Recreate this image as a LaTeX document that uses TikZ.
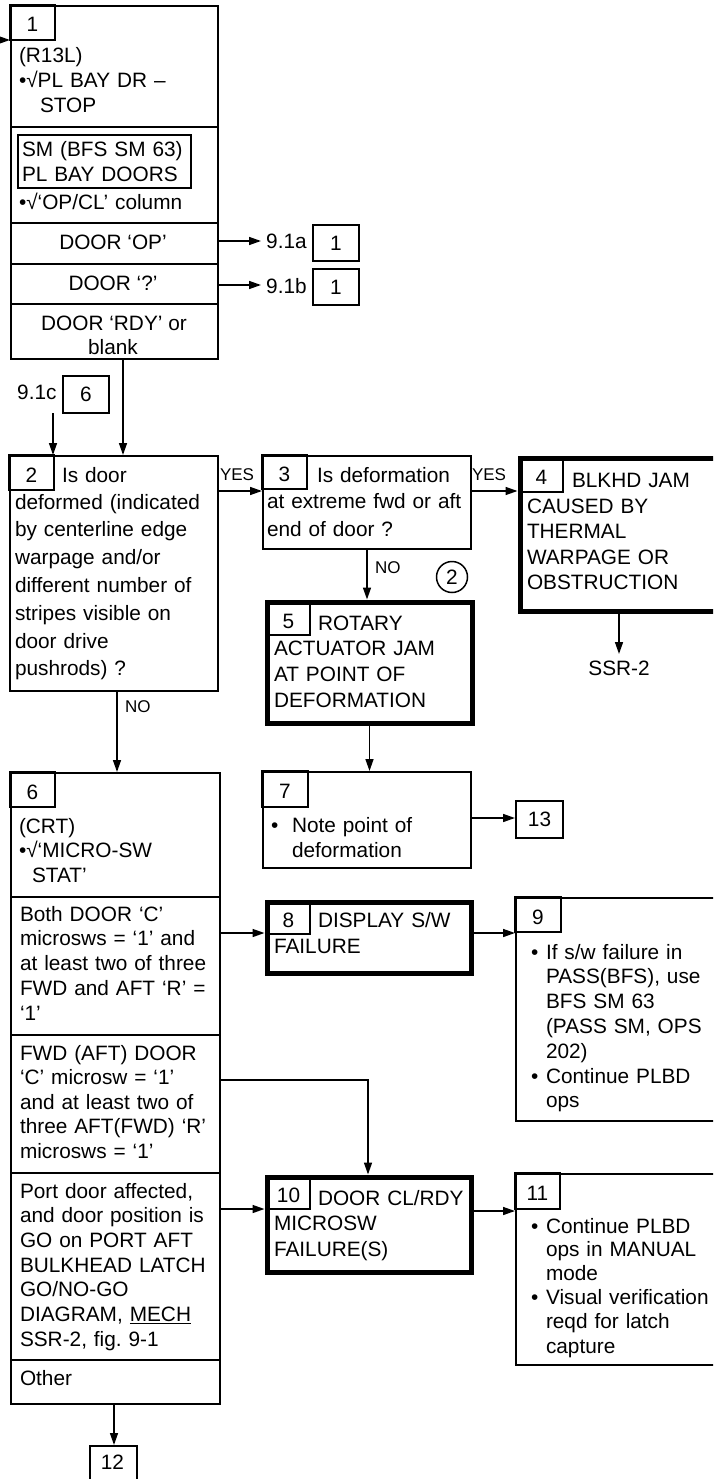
\documentclass[tikz,border=0pt]{standalone}
\usepackage{fontspec}
\setmainfont{Liberation Sans}
\usetikzlibrary{arrows.meta}
\frenchspacing
\tikzset{
  box/.style={draw, line width=2pt, inner sep=0pt, outer sep=1pt, anchor=north west, rectangle, font=\fontsize{20.8}{24}\selectfont},
  heavy/.style={draw, line width=5pt, inner sep=0pt, outer sep=2.5pt, anchor=north west, rectangle},
  tabbox/.style={draw, line width=1.3pt, inner sep=0pt, outer sep=0pt, anchor=north west, rectangle, text height=19pt, text depth=0pt, font=\fontsize{20.8}{24}\selectfont},
  tx/.style={anchor=base west, inner sep=0pt, outer sep=0pt, align=left, text width=300pt, font=\fontsize{20.8}{24.7}\selectfont},
  ctr/.style={anchor=base, inner sep=0pt, outer sep=0pt, font=\fontsize{20.8}{24}\selectfont},
  yn/.style={anchor=base west, inner sep=0pt, outer sep=0pt, font=\fontsize{17}{20}\selectfont},
  arr/.style={-{Triangle[length=12pt,width=8pt]}, line width=1.5pt},
  divider/.style={line width=1.8pt}
}
\begin{document}
\begin{tikzpicture}[x=1pt,y=-1pt]
\path[use as bounding box] (0,0) rectangle (713,1479);
\clip (0,0) rectangle (713,1479);

% ---------- Box 1 ----------
\node[box, minimum width=207pt, minimum height=353pt] (b1) at (10,5) {};
\node[tabbox, minimum width=45pt, minimum height=35pt] (tb1) at (10,5) {1};
\draw[divider] (b1.west |- 0,127) -- (b1.east |- 0,127);
\draw[divider] (b1.west |- 0,223) -- (b1.east |- 0,223);
\draw[divider] (b1.west |- 0,264) -- (b1.east |- 0,264);
\draw[divider] (b1.west |- 0,304) -- (b1.east |- 0,304);
\node[tx, font=\fontsize{20.8}{25}\selectfont] (t1a) at (19,63) {(R13L)\\•√PL BAY DR –};
\node[tx] (t1b) at (40,113) {STOP};
\node[box, line width=1.6pt, outer sep=0pt, minimum width=173pt, minimum height=53pt] (sm) at (18,135) {};
\node[tx, font=\fontsize{20.8}{25}\selectfont] (t1c) at (22,157) {SM (BFS SM 63)\\PL BAY DOORS};
\node[tx] (t1d) at (19,210) {•√‘OP/CL’ column};
\node[ctr] (t1e) at (113,250) {DOOR ‘OP’};
\node[ctr] (t1f) at (113,290) {DOOR ‘?’};
\node[ctr] (t1g) at (114,330) {DOOR ‘RDY’ or};
\node[ctr] (t1h) at (113,354) {blank};
\coordinate (in0) at (0,40);
\draw[arr] (in0) -- (b1.west |- in0);

% references to 9.1a / 9.1b
\node[anchor=base west, inner sep=0pt, font=\fontsize{20.8}{24}\selectfont] (l1a) at (266,248) {9.1a};
\node[anchor=base west, inner sep=0pt, font=\fontsize{20.8}{24}\selectfont] (l1b) at (266,293) {9.1b};
\node[box, minimum width=46pt, minimum height=36pt] (r1a) at (312,224) {1};
\node[box, minimum width=46pt, minimum height=36pt] (r1b) at (312,268) {1};
\coordinate (a1a) at (261,241);
\coordinate (a1b) at (261,285);
\draw[arr] (b1.east |- a1a) -- (a1a);
\draw[arr] (b1.east |- a1b) -- (a1b);

% 9.1c reference
\node[anchor=base west, inner sep=0pt, font=\fontsize{20.8}{24}\selectfont] (l1c) at (17,399) {9.1c};
\node[box, minimum width=46pt, minimum height=37pt] (r6) at (62,375) {6};

% ---------- Box 2 ----------
\node[box, minimum width=208pt, minimum height=235pt] (b2) at (9,455) {};
\node[tabbox, minimum width=45pt, minimum height=35pt] (tb2) at (9,455) {2};
\node[tx] (t2a) at (62,482) {Is door};
\node[tx, font=\fontsize{20.8}{27.8}\selectfont] (t2b) at (15,509) {deformed (indicated\\by centerline edge\\warpage and/or\\different number of\\stripes visible on\\door drive\\pushrods) ?};

\coordinate (c12) at (123,0);
\draw[arr] (b1.south -| c12) -- (b2.north -| c12);
\coordinate (c6s) at (53,413);
\draw[arr] (c6s) -- (b2.north -| c6s);

% ---------- Box 3 ----------
\node[box, minimum width=208pt, minimum height=93pt] (b3) at (262,455) {};
\node[tabbox, minimum width=45pt, minimum height=34pt] (tb3) at (262,455) {3};
\node[tx] (t3a) at (317,482) {Is deformation};
\node[tx, font=\fontsize{20.8}{28}\selectfont] (t3b) at (267,508) {at extreme fwd or aft\\end of door ?};

\coordinate (yy) at (0,491);
\draw[arr] (b2.east |- yy) -- (b3.west |- yy);
\node[yn] (yes1) at (220,480) {YES};

% ---------- Box 4 ----------
\node[heavy, minimum width=220pt, minimum height=153pt] (b4) at (517.5,455.5) {};
\node[tabbox, minimum width=43pt, minimum height=34pt] (tb4) at (520,458) {4};
\node[tx] (t4a) at (572,487) {BLKHD JAM};
\node[tx, font=\fontsize{20.8}{25.5}\selectfont] (t4b) at (527,513) {CAUSED BY\\THERMAL\\WARPAGE OR\\OBSTRUCTION};
\draw[arr] (b3.east |- yy) -- (b4.west |- yy);
\node[yn] (yes2) at (472,480) {YES};

\node[ctr] (ssr) at (619,675) {SSR-2};
\coordinate (ssrtop) at (619,654);
\draw[arr] (b4.south -| ssrtop) -- (ssrtop);

% ---------- Box 5 ----------
\node[heavy, minimum width=205pt, minimum height=121pt] (b5) at (264.5,599.5) {};
\node[tabbox, minimum width=43pt, minimum height=33pt] (tb5) at (267,602) {5};
\node[tx] (t5a) at (318,630) {ROTARY};
\node[tx, font=\fontsize{20.8}{26}\selectfont] (t5b) at (274,655) {ACTUATOR JAM\\AT POINT OF\\DEFORMATION};
\draw[arr] (b3.south) -- (b5.north -| b3.south);
\node[yn] (no3) at (375,573) {NO};
\node[circle, draw, line width=1.5pt, minimum size=31pt, inner sep=0pt, font=\fontsize{20.8}{24}\selectfont] (c2) at (452,577) {2};

% ---------- Box 6 ----------
\node[box, minimum width=209pt, minimum height=631pt] (b6) at (10,772) {};
\node[tabbox, minimum width=45pt, minimum height=35pt] (tb6) at (10,772) {6};
\draw[divider] (b6.west |- 0,897) -- (b6.east |- 0,897);
\draw[divider] (b6.west |- 0,1035) -- (b6.east |- 0,1035);
\draw[divider] (b6.west |- 0,1173) -- (b6.east |- 0,1173);
\draw[divider] (b6.west |- 0,1360) -- (b6.east |- 0,1360);
\node[tx, font=\fontsize{20.8}{24.5}\selectfont] (t6a) at (19,833) {(CRT)\\•√‘MICRO-SW};
\node[tx] (t6b) at (32,882) {STAT’};
\node[tx, font=\fontsize{20.8}{24.75}\selectfont] (t6c) at (20,921) {Both DOOR ‘C’\\microsws = ‘1’ and\\at least two of three\\FWD and AFT ‘R’ =\\‘1’};
\node[tx, font=\fontsize{20.8}{24.5}\selectfont] (t6d) at (20,1060) {FWD (AFT) DOOR\\‘C’ microsw = ‘1’\\and at least two of\\three AFT(FWD) ‘R’\\microsws = ‘1’};
\node[tx, font=\fontsize{20.8}{24.67}\selectfont] (t6e) at (20,1198) {Port door affected,\\and door position is\\GO on PORT AFT\\BULKHEAD LATCH\\GO/NO-GO\\DIAGRAM, \underline{MECH}\\SSR-2, fig. 9-1};
\node[tx] (t6f) at (20,1385) {Other};

\coordinate (c26) at (117,0);
\draw[arr] (b2.south -| c26) -- (b6.north -| c26);
\node[yn] (no2) at (125,712) {NO};

% ---------- Box 7 ----------
\node[box, minimum width=208pt, minimum height=96pt] (b7) at (262,771) {};
\node[tabbox, minimum width=46pt, minimum height=36pt] (tb7) at (262,771) {7};
\node[tx] (t7a) at (271,832) {•};
\node[tx, font=\fontsize{20.8}{25}\selectfont] (t7b) at (292,832) {Note point of\\deformation};
\draw[arr] (b5.south) -- (b7.north -| b5.south);

\node[box, minimum width=47pt, minimum height=37pt] (b13) at (515,800) {13};
\coordinate (y13) at (0,818);
\draw[arr] (b7.east |- y13) -- (b13.west |- y13);

% ---------- Box 8 ----------
\node[heavy, minimum width=204pt, minimum height=71pt] (b8) at (264.5,899.5) {};
\node[tabbox, minimum width=43pt, minimum height=32pt] (tb8) at (267,902) {8};
\node[tx] (t8a) at (318,927) {DISPLAY S/W};
\node[tx] (t8b) at (274,953) {FAILURE};
\coordinate (y8) at (0,933);
\draw[arr] (b6.east |- y8) -- (b8.west |- y8);

% ---------- Box 9 ----------
\node[box, minimum width=210pt, minimum height=223pt] (b9) at (515,897) {};
\node[tabbox, minimum width=46pt, minimum height=35pt] (tb9) at (515,897) {9};
\node[tx] (t9a) at (531,959) {•};
\node[tx, font=\fontsize{20.8}{24.75}\selectfont] (t9b) at (546,959) {If s/w failure in\\PASS(BFS), use\\BFS SM 63\\(PASS SM, OPS\\202)};
\node[tx] (t9c) at (531,1083) {•};
\node[tx, font=\fontsize{20.8}{24.5}\selectfont] (t9d) at (546,1083) {Continue PLBD\\ops};
\draw[arr] (b8.east |- y8) -- (b9.west |- y8);

% ---------- Box 10 ----------
\node[heavy, minimum width=204pt, minimum height=95pt] (b10) at (264.5,1174.5) {};
\node[tabbox, minimum width=43pt, minimum height=32pt] (tb10) at (267,1177) {10};
\node[tx] (t10a) at (318,1205) {DOOR CL/RDY};
\node[tx, font=\fontsize{20.8}{26.5}\selectfont] (t10b) at (274,1230) {MICROSW\\FAILURE(S)};
\coordinate (y10) at (0,1209);
\draw[arr] (b6.east |- y10) -- (b10.west |- y10);
\coordinate (bend) at (368,1080);
\draw[arr] (b6.east |- bend) -- (bend) -- (b10.north -| bend);

% ---------- Box 11 ----------
\node[box, minimum width=210pt, minimum height=191pt] (b11) at (515,1173) {};
\node[tabbox, minimum width=45pt, minimum height=36pt] (tb11) at (515,1173) {11};
\node[tx] (t11a) at (531,1233) {•};
\node[tx, font=\fontsize{20.8}{23.5}\selectfont] (t11b) at (546,1233) {Continue PLBD\\ops in MANUAL\\mode};
\node[tx] (t11c) at (531,1304) {•};
\node[tx, font=\fontsize{20.8}{24.5}\selectfont] (t11d) at (546,1304) {Visual verification\\reqd for latch\\capture};
\coordinate (y11) at (0,1211);
\draw[arr] (b10.east |- y11) -- (b11.west |- y11);

% ---------- Box 12 ----------
\node[box, minimum width=47pt, minimum height=50pt] (b12) at (89,1445) {};
\node[ctr] (t12) at (112.5,1469) {12};
\coordinate (c612) at (114,0);
\draw[arr] (b6.south -| c612) -- (b12.north -| c612);
\end{tikzpicture}
\end{document}
